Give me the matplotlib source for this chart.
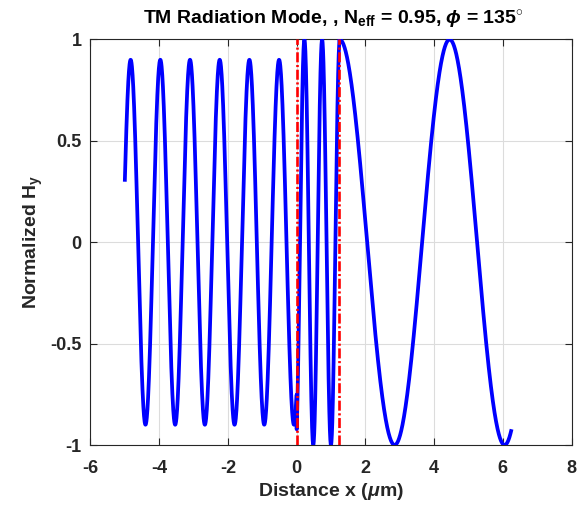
"""TM radiation mode profile across a three-layer slab."""
import numpy as np
import matplotlib
matplotlib.use("Agg")
import matplotlib.pyplot as plt

plt.rcParams['font.family'] = ['Liberation Sans', 'DejaVu Sans']
plt.rcParams['font.weight'] = 'bold'
plt.rcParams['mathtext.fontset'] = 'custom'
plt.rcParams['mathtext.rm'] = 'Liberation Sans:bold'
plt.rcParams['mathtext.bf'] = 'Liberation Sans:bold'
plt.rcParams['mathtext.it'] = 'Liberation Sans:italic:bold'

x_start = -5.0
core_edges = [0.0, 1.24]
x_end = 6.24

# Per layer: amplitude, period (um), position of an extremum (um), sign (+1 peak / -1 trough)
amplitudes = [0.9, 1.0, 1.0]
periods = [0.864, 0.515, 3.2]
ref_points = [-0.08, 0.225, 1.25]
ref_sign = [-1, 1, 1]

# Sampling of the field in each layer
n_samples = [800, 300, 800]
bounds = [x_start, core_edges[0], core_edges[1], x_end]

xs, ys = [], []
for i in range(3):
    x = np.linspace(bounds[i], bounds[i + 1], n_samples[i])
    y = ref_sign[i] * amplitudes[i] * np.cos(2 * np.pi * (x - ref_points[i]) / periods[i])
    xs.append(x)
    ys.append(y)
x_all = np.concatenate(xs)
y_all = np.concatenate(ys)

fig = plt.figure(figsize=(5.79, 5.05), dpi=100)
ax = fig.add_axes([0.1563, 0.1188, 0.8309, 0.803])

ax.plot(x_all, y_all, color='blue', linewidth=2.7, zorder=3)
for edge in core_edges:
    ax.plot([edge, edge], [-1, 1], color='red', linewidth=1.9, zorder=4,
            dashes=(3.8, 1.0, 0.8, 1.0))

ax.set_xlim(-6, 8)
ax.set_ylim(-1, 1)
ax.set_xticks(np.arange(-6, 9, 2))
ax.set_yticks([-1, -0.5, 0, 0.5, 1])
ax.set_yticklabels(['-1', '-0.5', '0', '0.5', '1'])
ax.set_xticklabels([str(v) for v in range(-6, 9, 2)])
ax.grid(True, color='#dcdcdc', linewidth=0.8)
ax.set_axisbelow(True)
ax.tick_params(direction='in', top=True, right=True, labelsize=13, length=5,
               color='#262626', labelcolor='#262626', width=0.8)
ax.tick_params(axis='x', pad=11)
ax.tick_params(axis='y', pad=6.5)
for s in ax.spines.values():
    s.set_color('#262626')
    s.set_linewidth(0.8)

ax.set_xlabel(r'Distance x ($\mu$m)', fontsize=14, fontweight='bold', color='#262626',
              labelpad=3)
ax.set_ylabel(r'Normalized H$_{\mathbf{y}}$', fontsize=14, fontweight='bold', color='#262626',
              labelpad=4)
ax.text(0.505, 1.036, r'TM Radiation Mode, , N$_{\mathbf{eff}}$ = 0.95, $\phi$ = 135$^{\circ}$',
        transform=ax.transAxes, ha='center', va='baseline',
        fontsize=14, fontweight='bold', color='black')

fig.savefig('out.png', dpi=100)
